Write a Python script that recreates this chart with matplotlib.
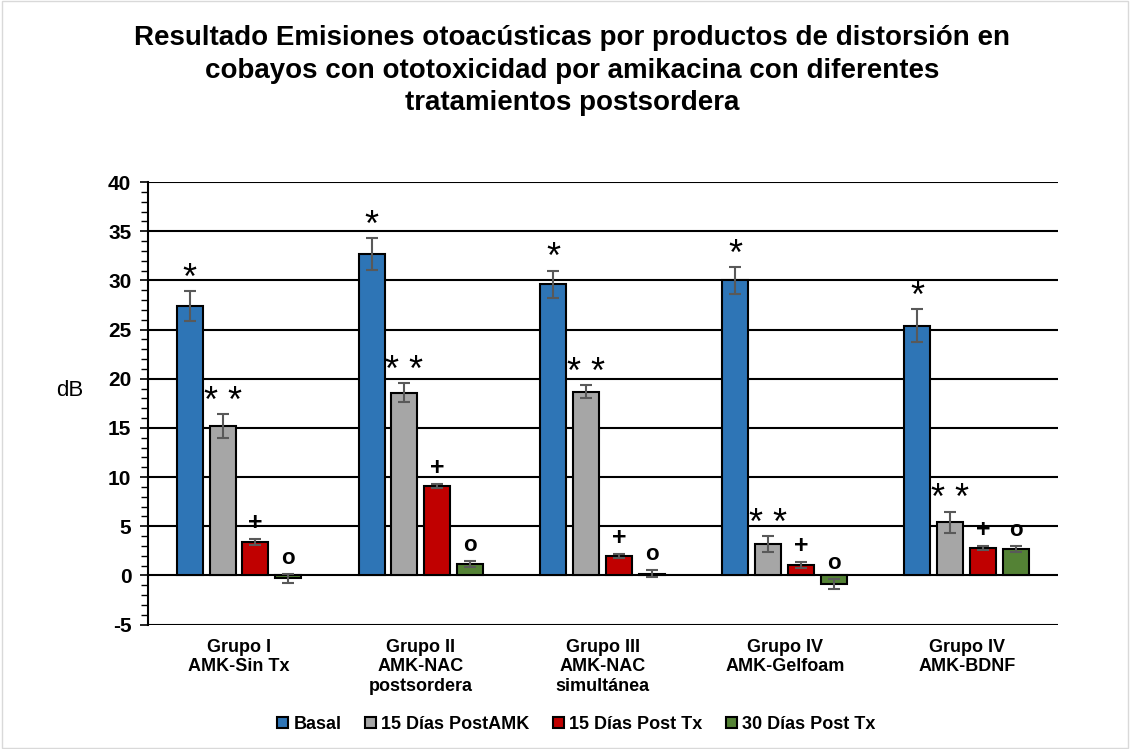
import matplotlib.pyplot as plt
import numpy as np

plt.rcParams['font.family'] = ['Liberation Sans', 'DejaVu Sans']
plt.rcParams['axes.unicode_minus'] = False

grupos = ["Grupo I\nAMK-Sin Tx", "Grupo II\nAMK-NAC\npostsordera", "Grupo III\nAMK-NAC\nsimultánea",
          "Grupo IV\nAMK-Gelfoam", "Grupo IV\nAMK-BDNF"]
series = ["Basal", "15 Días PostAMK", "15 Días Post Tx", "30 Días Post Tx"]
colores = ["#2E75B6", "#A6A6A6", "#C00000", "#548235"]
marcas = ["*", "* *", "+", "o"]

basal = [27.4, 32.7, 29.6, 30.0, 25.4]
dias15_amk = [15.2, 18.6, 18.7, 3.2, 5.4]
dias15_tx = [3.4, 9.1, 2.0, 1.1, 2.8]
dias30_tx = [-0.3, 1.2, 0.2, -0.9, 2.7]

err_basal = [1.5, 1.6, 1.4, 1.4, 1.7]
err_15amk = [1.2, 1.0, 0.65, 0.85, 1.1]
err_15tx = [0.3, 0.2, 0.2, 0.3, 0.2]
err_30tx = [0.5, 0.3, 0.4, 0.5, 0.3]

valores = [basal, dias15_amk, dias15_tx, dias30_tx]
errores = [err_basal, err_15amk, err_15tx, err_30tx]

fig = plt.figure(figsize=(11.3, 7.49), dpi=100)
ax = fig.add_axes([0.131, 0.166, 0.805, 0.591])

x = np.arange(len(grupos))
ancho = 0.143
paso = 0.181

for i in range(4):
    pos = x + (i - 1.5) * paso
    ax.bar(pos, valores[i], width=ancho, color=colores[i], edgecolor="black", linewidth=1.5,
           label=series[i], zorder=3)
    ax.errorbar(pos, valores[i], yerr=errores[i], fmt="none", ecolor="#595959", elinewidth=1.5,
                capsize=4, capthick=1.5, zorder=4)
    for p, v, e in zip(pos, valores[i], errores[i]):
        tope = max(v, 0) + e if v >= 0 else v + e
        if marcas[i] == "o":
            ax.text(p, tope + 0.5, "o", ha="center", va="bottom", fontsize=16, fontweight="bold", zorder=5)
        elif marcas[i] == "+":
            ax.text(p, tope + 0.4, "+", ha="center", va="bottom", fontsize=18, fontweight="bold", zorder=5)
        else:
            ax.text(p, tope - 0.6, marcas[i], ha="center", va="bottom", fontsize=26, zorder=5)

ax.set_xlim(-0.5, 4.5)
ax.set_ylim(-5, 40)
ax.set_yticks(np.arange(-5, 41, 5))
ax.set_yticks(np.arange(-5, 41, 1), minor=True)
ax.yaxis.grid(True, color="black", linewidth=1.5, zorder=0)
ax.set_xticks(x)
ax.set_xticklabels(grupos, fontsize=13, fontweight="bold", va="top")
ax.tick_params(axis="x", length=0, pad=10)
ax.tick_params(axis="y", which="major", length=6, width=1.2, labelsize=15, pad=6)
ax.tick_params(axis="y", which="minor", length=5, width=1)
for t in ax.get_yticklabels():
    t.set_fontweight("bold")
for s in ["top", "right", "bottom"]:
    ax.spines[s].set_visible(False)
ax.spines["left"].set_linewidth(1.5)
fig.text(70 / 1130, 1 - 390 / 749, "dB", fontsize=16, ha="center", va="center")

fig.suptitle("Resultado Emisiones otoacústicas por productos de distorsión en\n"
             "cobayos con ototoxicidad por amikacina con diferentes\n"
             "tratamientos postsordera", fontsize=20, fontweight="bold", x=0.506, y=0.966,
             va="top", linespacing=1.32)

leg = fig.legend(loc="lower center", bbox_to_anchor=(0.51, 0.0), ncol=4, frameon=False,
                 prop={"size": 13, "weight": "bold"}, handlelength=0.6, handleheight=0.6,
                 handletextpad=0.3, columnspacing=1.3)

fig.patches.append(plt.Rectangle((0.002, 0.002), 0.996, 0.996, transform=fig.transFigure,
                                 fill=False, edgecolor="#D9D9D9", linewidth=1))

fig.savefig("out.png", dpi=100)
